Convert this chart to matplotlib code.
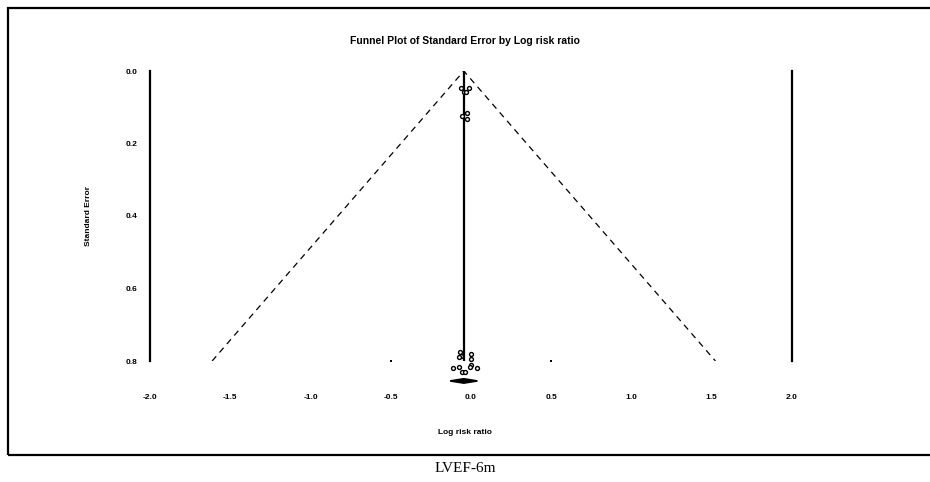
import matplotlib
matplotlib.use("Agg")
import matplotlib.pyplot as plt
from matplotlib.patches import Rectangle, Polygon

# study estimates (log risk ratio) and their standard errors
log_rr = [-0.064, -0.011, -0.045, -0.030, -0.027, -0.058, -0.027,
          -0.070, -0.060, -0.075, 0.000, 0.000, 0.000,
          -0.110, -0.075, -0.056, -0.037, -0.006, 0.037]
std_err = [0.047, 0.047, 0.058, 0.058, 0.116, 0.124, 0.132,
           0.775, 0.785, 0.790, 0.780, 0.795, 0.810,
           0.820, 0.817, 0.830, 0.830, 0.817, 0.820]

# two outlying studies, drawn as small dots
outer_rr = [-0.5, 0.5]
outer_se = [0.8, 0.8]

# pooled estimate and its confidence interval
pooled = -0.045
ci_low, ci_high = -0.13, 0.04
diamond_se = 0.855

x_ticks = [-2.0, -1.5, -1.0, -0.5, 0.0, 0.5, 1.0, 1.5, 2.0]
y_ticks = [0.0, 0.2, 0.4, 0.6, 0.8]
se_max = 0.8

plt.rcParams["font.family"] = ["Liberation Sans", "DejaVu Sans"]

fig = plt.figure(figsize=(9.3, 4.82), dpi=100)
ax = fig.add_axes([150 / 930, 1 - 361 / 482, 642 / 930, 290 / 482])

# frame around the whole plot
fig.patches.append(Rectangle((8 / 930, 1 - 455 / 482), 1.0, 447 / 482,
                             transform=fig.transFigure, fill=False,
                             edgecolor="black", linewidth=1.6, clip_on=False))

# funnel (95% pseudo confidence limits)
ax.plot([pooled - 1.96 * se_max, pooled, pooled + 1.96 * se_max],
        [se_max, 0, se_max], color="black", linestyle=(0, (5, 4)),
        linewidth=0.9)
ax.plot([pooled, pooled], [0, se_max], color="black", linewidth=1.6)

ax.scatter(log_rr, std_err, s=8, facecolors="white", edgecolors="black",
           linewidths=1.0, clip_on=False, zorder=3)
ax.scatter(outer_rr, outer_se, s=3, marker="s", color="black",
           linewidths=0, clip_on=False, zorder=3)

half_h = 0.006
ax.add_patch(Polygon([(ci_low, diamond_se), (pooled, diamond_se - half_h),
                      (ci_high, diamond_se), (pooled, diamond_se + half_h)],
                     closed=True, facecolor="black", edgecolor="black",
                     linewidth=1.2, clip_on=False, zorder=4))

ax.set_xlim(-2.0, 2.0)
ax.set_ylim(se_max, 0.0)
ax.set_xticks(x_ticks)
ax.set_xticklabels([f"{v:.1f}" for v in x_ticks])
ax.set_yticks(y_ticks)
ax.set_yticklabels([f"{v:.1f}" for v in y_ticks])
ax.tick_params(axis="both", length=0, labelsize=6)
ax.tick_params(axis="x", pad=24)
ax.tick_params(axis="y", pad=9)
for lab in ax.get_xticklabels() + ax.get_yticklabels():
    lab.set_fontweight("bold")

for side in ("top", "bottom"):
    ax.spines[side].set_visible(False)
for side in ("left", "right"):
    ax.spines[side].set_linewidth(1.6)

fig.text(465 / 930, 1 - 41 / 482, "Funnel Plot of Standard Error by Log risk ratio",
         ha="center", va="center", fontsize=7.5, fontweight="bold")
fig.text(465 / 930, 1 - 432 / 482, "Log risk ratio", ha="center", va="center",
         fontsize=6, fontweight="bold")
fig.text(88 / 930, 1 - 216 / 482, "Standard Error", ha="center", va="center",
         rotation=90, fontsize=6, fontweight="bold")
fig.text(465 / 930, 1 - 469 / 482, "LVEF-6m", ha="center", va="center",
         fontsize=11, family=["Liberation Serif", "DejaVu Serif"])

fig.savefig("out.png", dpi=100)
